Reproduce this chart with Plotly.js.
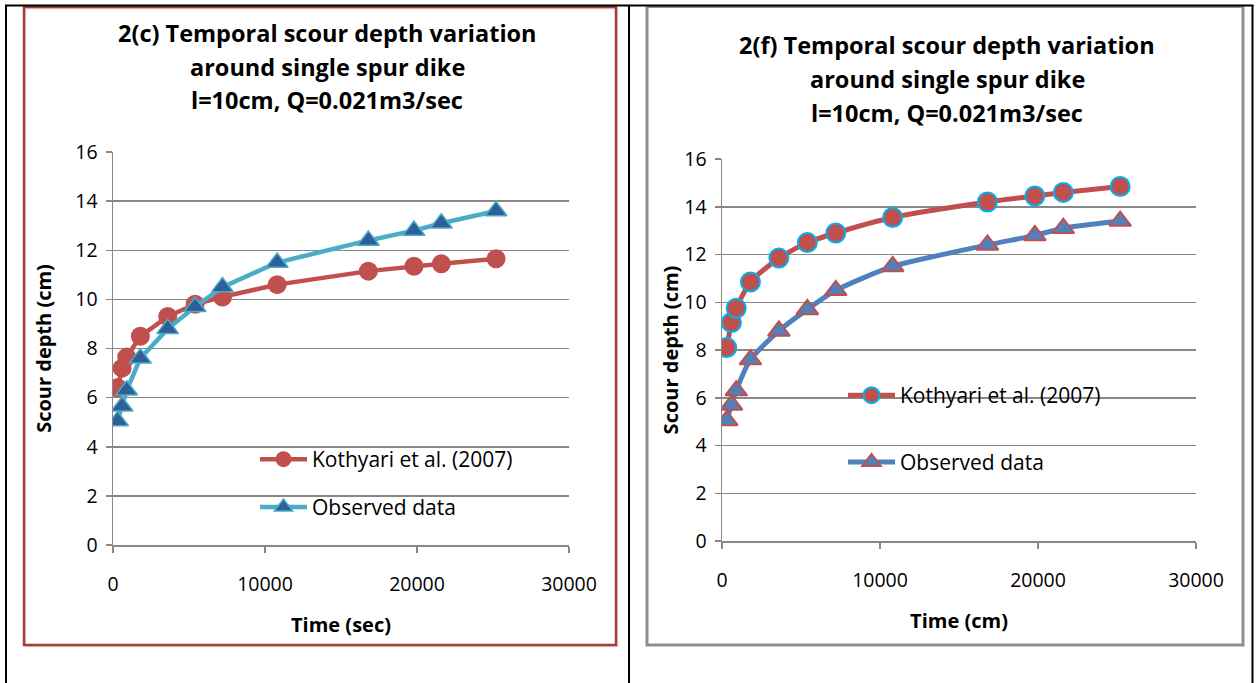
<!DOCTYPE html>
<html><head><meta charset="utf-8">
<script src="https://cdn.plot.ly/plotly-3.0.1.min.js"></script>
<style>html,body{margin:0;padding:0;background:#fff;}#chart{width:1256px;height:683px;}</style>
</head><body><div id="chart"></div>
<script>
// ---- data ----
const timeSec = [300, 600, 900, 1800, 3600, 5400, 7200, 10800, 16800, 19800, 21600, 25200];
const kothyariC = [6.4, 7.2, 7.65, 8.5, 9.3, 9.8, 10.1, 10.6, 11.15, 11.35, 11.45, 11.65];
const observedC = [5.05, 5.65, 6.3, 7.6, 8.8, 9.7, 10.5, 11.5, 12.4, 12.8, 13.1, 13.6];
const kothyariF = [8.1, 9.15, 9.75, 10.85, 11.85, 12.5, 12.9, 13.55, 14.2, 14.45, 14.6, 14.85];
const observedF = [5.05, 5.7, 6.3, 7.6, 8.8, 9.7, 10.5, 11.5, 12.4, 12.8, 13.1, 13.4];
const seriesNames = ["Kothyari et al. (2007)", "Observed data"];
const titleC = ["2(c) Temporal scour depth variation", "around single spur dike", "l=10cm, Q=0.021m3/sec"];
const titleF = ["2(f) Temporal scour depth variation", "around single spur dike", "l=10cm, Q=0.021m3/sec"];
const xTitles = ["Time (sec)", "Time (cm)"];
const yTitle = "Scour depth (cm)";

// ---- layout helpers (page pixels -> paper fraction) ----
const W = 1256, H = 683;
const px = v => v / W;
const py = v => 1 - v / H;
const FONT = "'Open Sans', sans-serif";

const traces = [
  {x: timeSec, y: kothyariC, name: seriesNames[0], xaxis: "x", yaxis: "y", mode: "lines+markers",
   line: {color: "#C0504D", width: 4.5}, legendgroup: "a",
   marker: {symbol: "circle", size: 19, color: "#C0504D", line: {color: "#C0504D", width: 0}}},
  {x: timeSec, y: observedC, name: seriesNames[1], xaxis: "x", yaxis: "y", mode: "lines+markers",
   line: {color: "#4BACC6", width: 4.5}, legendgroup: "b",
   marker: {symbol: "triangle-up", size: 19, color: "#2E5F98", line: {color: "#4BACC6", width: 1.5}}},
  {x: timeSec, y: kothyariF, name: seriesNames[0], xaxis: "x2", yaxis: "y2", mode: "lines+markers",
   line: {color: "#C0504D", width: 5, shape: "spline", smoothing: 0.6}, legend: "legend2", legendgroup: "c",
   marker: {symbol: "circle", size: 19, color: "#C0504D", line: {color: "#00B0F0", width: 2}}},
  {x: timeSec, y: observedF, name: seriesNames[1], xaxis: "x2", yaxis: "y2", mode: "lines+markers",
   line: {color: "#4F81BD", width: 5, shape: "spline", smoothing: 0.6}, legend: "legend2", legendgroup: "d",
   marker: {symbol: "triangle-up", size: 19, color: "#4F81BD", line: {color: "#C0504D", width: 2}}}
];

function xax(domain, title, anchor) {
  return {domain: domain, anchor: anchor, range: [0, 30000], dtick: 10000, tick0: 0, tickformat: "d",
    showgrid: false, zeroline: false,
    showline: true, linecolor: "#888", linewidth: 1.5, ticks: "outside", ticklen: 6, tickcolor: "#888",
    tickwidth: 1.5, ticklabelstandoff: 15, tickfont: {family: FONT, size: 19.5, color: "#000"},
    title: {text: title, font: {family: FONT, size: 20, color: "#000", weight: "bold"}, standoff: 22},
    fixedrange: true};
}
function yax(domain, anchor, standoff) {
  return {domain: domain, anchor: anchor, range: [0, 16], dtick: 2, tick0: 0, showgrid: true,
    gridcolor: "#888", gridwidth: 1.5, zeroline: false, showline: true, linecolor: "#888", linewidth: 1.5,
    ticks: "outside", ticklen: 6, tickcolor: "#888", tickwidth: 1.5, ticklabelstandoff: 4,
    tickfont: {family: FONT, size: 19.5, color: "#000"},
    title: {text: yTitle, font: {family: FONT, size: 20, color: "#000", weight: "bold"}, standoff: standoff},
    fixedrange: true};
}

const annotations = [];
[[titleC, 327, [33, 67, 100]], [titleF, 947, [45, 79, 113]]].forEach(([lines, cx, ys]) => {
  lines.forEach((t, i) => annotations.push({text: t, xref: "paper", yref: "paper", x: px(cx), y: py(ys[i]),
    xanchor: "center", yanchor: "middle", showarrow: false,
    font: {family: FONT, size: 23.5, color: "#000", weight: "bold"}}));
});

function rect(x0, y0, x1, y1, color, width) {
  return {type: "rect", xref: "paper", yref: "paper", x0: px(x0), x1: px(x1), y0: py(y0), y1: py(y1),
    line: {color: color, width: width}, fillcolor: "rgba(0,0,0,0)", layer: "below"};
}
function seg(x0, y0, x1, y1, color, width) {
  return {type: "line", xref: "paper", yref: "paper", x0: px(x0), x1: px(x1), y0: py(y0), y1: py(y1),
    line: {color: color, width: width}, layer: "below"};
}
const shapes = [
  rect(25.5, 8.5, 617.5, 646.5, "#F2D3D3", 1.5),
  rect(24, 7, 616, 645, "#A23E3A", 2.5),
  rect(647, 6.5, 1243, 645, "#8E8E8E", 3),
  seg(5, 5.5, 1253.5, 5.5, "#000", 2),
  seg(6, 5, 6, 683, "#000", 2),
  seg(629, 5, 629, 683, "#000", 2),
  seg(1252.5, 5, 1252.5, 683, "#000", 2)
];

const layout = {
  width: W, height: H, margin: {l: 0, r: 0, t: 0, b: 0},
  paper_bgcolor: "#fff", plot_bgcolor: "rgba(0,0,0,0)",
  font: {family: FONT, color: "#000"},
  xaxis: xax([px(113), px(569)], xTitles[0], "y"),
  yaxis: yax([1 - 545 / H, 1 - 152 / H], "x", 18),
  xaxis2: xax([px(722), px(1196)], xTitles[1], "y2"),
  yaxis2: yax([1 - 541 / H, 1 - 159 / H], "x2", 0),
  showlegend: true,
  legend: {x: px(255), y: py(439), xanchor: "left", yanchor: "top", bgcolor: "rgba(0,0,0,0)",
    font: {family: FONT, size: 21, color: "#000"}, itemwidth: 47, tracegroupgap: 17.5, traceorder: "grouped"},
  legend2: {x: px(843), y: py(375), xanchor: "left", yanchor: "top", bgcolor: "rgba(0,0,0,0)",
    font: {family: FONT, size: 21, color: "#000"}, itemwidth: 47, tracegroupgap: 36.5, traceorder: "grouped"},
  annotations: annotations, shapes: shapes, hovermode: false
};
Plotly.newPlot("chart", traces, layout, {displayModeBar: false, staticPlot: true});
</script></body></html>
